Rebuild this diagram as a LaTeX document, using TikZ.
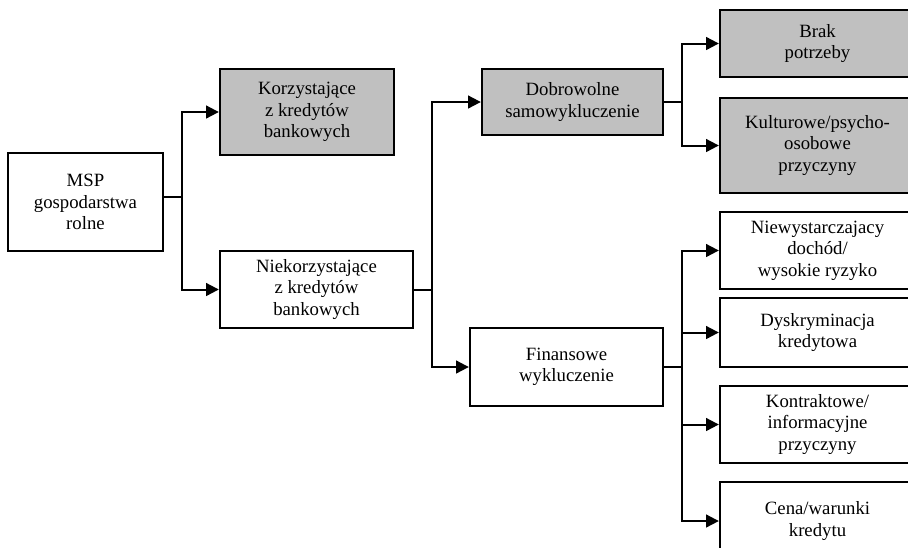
\documentclass[tikz,border=0pt]{standalone}
\usepackage{fontspec}
\usepackage{tikz}
\usepackage{xcolor}
\usetikzlibrary{positioning,arrows.meta}
\setmainfont{Liberation Serif}
\definecolor{boxgray}{RGB}{192,192,192}
\newcommand{\pu}{0.03cm}

\begin{document}
\begin{tikzpicture}[
      x=0.03cm, y=-0.03cm,
      box/.style={draw=black, line width=2pt, fill=white, text=black, align=center, inner sep=2pt, font=\fontsize{16}{18.3}\selectfont},
      grey/.style={box, fill=boxgray},
      line/.style={line width=1.7pt, draw=black},
      arrow/.style={line, -{Triangle[length=0.38cm,width=0.38cm]}}
    ]
      \useasboundingbox (0,0) rectangle (908,547);
      % first level
      \node[box, minimum width=155*\pu, minimum height=98*\pu] (msp) at (85.5,202) {MSP\\gospodarstwa\\rolne};
      \node[grey, minimum width=174*\pu, minimum height=86*\pu] (kor) at (307,112) {Korzystające\\z kredytów\\bankowych};
      \node[box, minimum width=193*\pu, minimum height=77*\pu] (niekor) at (316.5,289.5) {Niekorzystające\\z kredytów\\bankowych};
      % second level
      \node[grey, minimum width=181*\pu, minimum height=66*\pu] (dob) at (572.5,102) {Dobrowolne\\samowykluczenie};
      \node[box, minimum width=193*\pu, minimum height=78*\pu] (fin) at (566.5,367) {Finansowe\\wykluczenie};
      % third level
      \node[grey, minimum width=195*\pu, minimum height=67*\pu] (brak) at (817.5,43.5) {Brak\\potrzeby};
      \node[grey, minimum width=195*\pu, minimum height=95*\pu] (kult) at (817.5,145.5) {Kulturowe/psycho-\\osobowe\\przyczyny};
      \node[box, minimum width=195*\pu, minimum height=77*\pu] (niew) at (817.5,250.5) {Niewystarczajacy\\dochód/\\wysokie ryzyko};
      \node[box, minimum width=195*\pu, minimum height=69*\pu] (dysk) at (817.5,332.5) {Dyskryminacja\\kredytowa};
      \node[box, minimum width=195*\pu, minimum height=77*\pu] (kontr) at (817.5,424.5) {Kontraktowe/\\informacyjne\\przyczyny};
      \node[box, minimum width=195*\pu, minimum height=78*\pu] (cena) at (817.5,521) {Cena/warunki\\kredytu};
      % branch points
      \coordinate (b1) at (182,197);
      \coordinate (b2) at (432,289.5);
      \coordinate (b3) at (682,102);
      \coordinate (b4) at (682,367);
      \draw[line] (msp.east |- b1) -- (b1);
      \draw[arrow] (b1) |- (kor.west);
      \draw[arrow] (b1) |- (niekor.west);
      \draw[line] (niekor.east) -- (b2);
      \draw[arrow] (b2) |- (dob.west);
      \draw[arrow] (b2) |- (fin.west);
      \draw[line] (dob.east) -- (b3);
      \draw[arrow] (b3) |- (brak.west);
      \draw[arrow] (b3) |- (kult.west);
      \draw[line] (fin.east) -- (b4);
      \draw[arrow] (b4) |- (niew.west);
      \draw[arrow] (b4) |- (dysk.west);
      \draw[arrow] (b4) |- (kontr.west);
      \draw[arrow] (b4) |- (cena.west);
    \end{tikzpicture}
\end{document}
